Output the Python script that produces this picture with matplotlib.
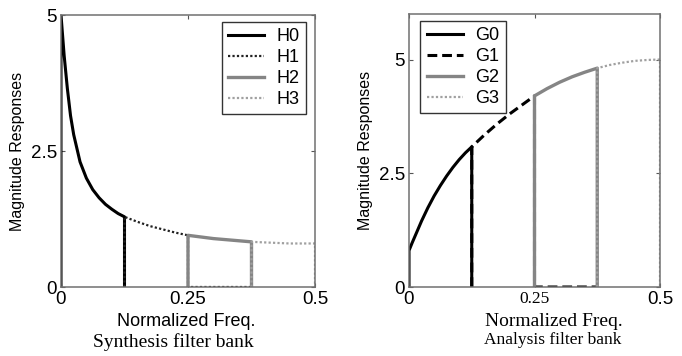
import numpy as np
import matplotlib
matplotlib.use("Agg")
import matplotlib.pyplot as plt
from matplotlib.lines import Line2D

# ---- data ----
freq = [0, 0.00625, 0.0125, 0.01875, 0.025, 0.0375, 0.05, 0.0625, 0.075, 0.0875, 0.1, 0.1125, 0.125,
        0.15, 0.175, 0.2, 0.225, 0.25, 0.275, 0.3, 0.325, 0.35, 0.375,
        0.4, 0.425, 0.45, 0.475, 0.5]
H_mag = [5.00, 4.25, 3.65, 3.15, 2.80, 2.30, 2.00, 1.79, 1.64, 1.52, 1.43, 1.35, 1.29,
         1.20, 1.12, 1.06, 1.00, 0.95, 0.92, 0.89, 0.87, 0.85, 0.83,
         0.82, 0.81, 0.80, 0.80, 0.80]
G_mag = [0.80, 0.97, 1.13, 1.29, 1.45, 1.74, 2.00, 2.23, 2.44, 2.63, 2.80, 2.95, 3.08,
         3.34, 3.58, 3.80, 4.00, 4.20, 4.36, 4.50, 4.62, 4.72, 4.81,
         4.88, 4.93, 4.97, 4.99, 5.00]
band_edges = [0, 0.125, 0.25, 0.375, 0.5]
H_labels = ["H0", "H1", "H2", "H3"]
G_labels = ["G0", "G1", "G2", "G3"]
# trailing zero extent for band 1 (visible dotted segment at bottom)
zero_tail = [0.0, 0.125, 0.0, 0.0]
x_ticks = [0, 0.25, 0.5]
x_ticklabels = ["0", "0.25", "0.5"]
y_ticks = [0, 2.5, 5]
y_ticklabels = ["0", "2.5", "5"]

freq = np.array(freq)
H_mag = np.array(H_mag)
G_mag = np.array(G_mag)

styles = [
    dict(color="black", lw=2.2, ls="-"),
    None,  # set per panel
    dict(color="#858585", lw=2.4, ls="-"),
    dict(color="#a0a0a0", lw=1.6, ls=(0, (1, 1))),
]
H1_style = dict(color="#222222", lw=1.6, ls=(0, (1, 1)))
G1_style = dict(color="black", lw=2.2, ls=(0, (3.2, 1.6)))

SANS = ["Liberation Sans", "DejaVu Sans"]
SERIF = ["Liberation Serif", "DejaVu Serif"]
plt.rcParams["font.family"] = SANS

fig = plt.figure(figsize=(6.82, 3.56), dpi=100)
axL = fig.add_axes([61/682, 69/356, 254/682, 272/356])
axR = fig.add_axes([409/682, 69/356, 251/682, 273/356])

def band_line(ax, mag, k, style):
    lo, hi = band_edges[k], band_edges[k + 1]
    m = (freq >= lo - 1e-9) & (freq <= hi + 1e-9)
    xs = np.concatenate([[lo], freq[m], [hi]])
    ys = np.concatenate([[0], mag[m], [0]])
    if zero_tail[k] > 0:
        xs = np.concatenate([xs, [hi + zero_tail[k]]])
        ys = np.concatenate([ys, [0]])
    ax.plot(xs, ys, color=style["color"], lw=style["lw"], ls=style["ls"],
            solid_capstyle="butt", solid_joinstyle="round", clip_on=True)
    return Line2D([], [], color=style["color"], lw=style["lw"], ls=style["ls"])

def style_axes(ax, ymax):
    ax.set_xlim(0, 0.5)
    ax.set_ylim(0, ymax)
    for s in ax.spines.values():
        s.set_color("#707070")
        s.set_linewidth(1.1)
        s.set_zorder(3)
    ax.tick_params(direction="in", length=3, width=0.8, color="#555555",
                   top=True, right=True, pad=3)
    ax.set_yticks(y_ticks)
    ax.set_yticklabels(y_ticklabels, fontsize=13.5, family=SANS)
    ax.set_ylabel("Magnitude Responses", fontsize=11.5, family=SANS, labelpad=4)

def make_legend(ax, handles, labels, loc, anchor):
    leg = ax.legend(handles, labels, loc=loc, fontsize=13,
                    handlelength=2.0, handletextpad=0.7, labelspacing=0.22,
                    borderpad=0.35, borderaxespad=0, fancybox=False,
                    framealpha=1, bbox_to_anchor=anchor)
    leg.get_frame().set_edgecolor("#333333")
    leg.get_frame().set_linewidth(1.0)
    return leg

# left panel
handles = []
for k in range(4):
    st = H1_style if k == 1 else styles[k]
    handles.append(band_line(axL, H_mag, k, st))
style_axes(axL, 5)
axL.set_xticks(x_ticks)
axL.set_xticklabels(x_ticklabels, fontsize=13.5, family=SANS)
make_legend(axL, handles, H_labels, "upper right", (0.965, 0.975))

# right panel
handles = []
for k in range(4):
    st = G1_style if k == 1 else styles[k]
    handles.append(band_line(axR, G_mag, k, st))
style_axes(axR, 6)
axR.set_xticks(x_ticks)
axR.set_xticklabels(x_ticklabels, fontsize=13.5, family=SANS)
tl = axR.get_xticklabels()
tl[1].set_family(SERIF)
tl[1].set_fontsize(12.5)
make_legend(axR, handles, G_labels, "upper left", (0.045, 0.975))

# captions
fig.text(186/682, 1 - 321/356, "Normalized Freq.", ha="center", va="center",
         fontsize=13, family=SANS)
fig.text(173/682, 1 - 342/356, "Synthesis filter bank", ha="center", va="center",
         fontsize=14, family=SERIF)
fig.text(554/682, 1 - 321/356, "Normalized Freq.", ha="center", va="center",
         fontsize=14, family=SERIF)
fig.text(553/682, 1 - 340/356, "Analysis filter bank", ha="center", va="center",
         fontsize=12.5, family=SERIF)

fig.savefig("out.png", dpi=100)
